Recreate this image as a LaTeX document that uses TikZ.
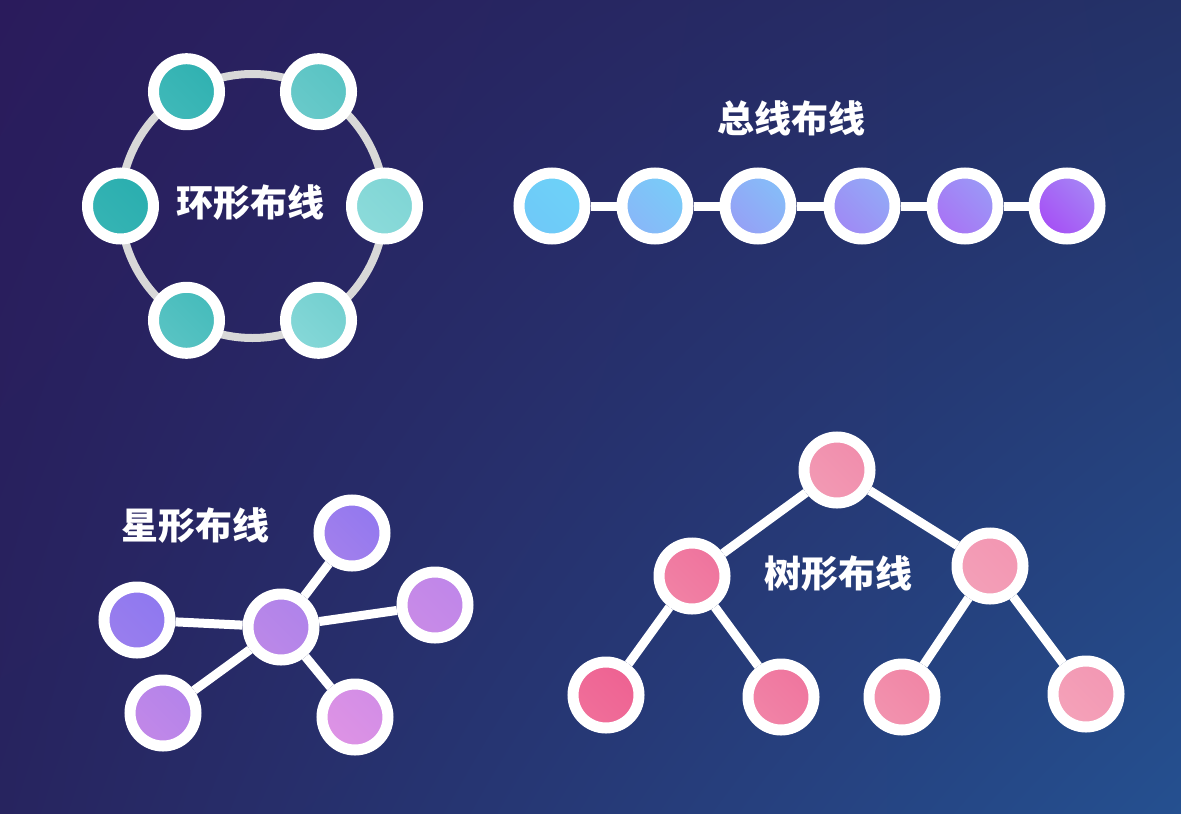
\documentclass[tikz,border=0pt]{standalone}
\usepackage{fontspec}
\usetikzlibrary{shadings}
\newfontfamily\cjk{Noto Sans CJK SC}
\pgfdeclarelayer{bg}
\pgfdeclarelayer{edges}
\pgfsetlayers{bg,edges,main}
% background
\definecolor{bgtl}{HTML}{2A1B5C}
\definecolor{bgtr}{HTML}{243268}
\definecolor{bgbl}{HTML}{27245F}
\definecolor{bgbr}{HTML}{255090}
\definecolor{ringgray}{HTML}{D8D8D8}
% ring
\definecolor{rla}{HTML}{2AAEAF}\definecolor{rlb}{HTML}{36B4B4}
\definecolor{rtla}{HTML}{30B1B1}\definecolor{rtlb}{HTML}{40B9B9}
\definecolor{rtra}{HTML}{58C3C3}\definecolor{rtrb}{HTML}{6ACACA}
\definecolor{rra}{HTML}{7FD5D5}\definecolor{rrb}{HTML}{8CDBDA}
\definecolor{rbla}{HTML}{45BBBB}\definecolor{rblb}{HTML}{5AC4C4}
\definecolor{rbra}{HTML}{72CFCF}\definecolor{rbrb}{HTML}{86D8D8}
% bus
\definecolor{b1a}{HTML}{6DD2F8}\definecolor{b1b}{HTML}{6FC8F8}
\definecolor{b2a}{HTML}{78CDF8}\definecolor{b2b}{HTML}{89B6F8}
\definecolor{b3a}{HTML}{85BEF8}\definecolor{b3b}{HTML}{969FF6}
\definecolor{b4a}{HTML}{92ABF6}\definecolor{b4b}{HTML}{A088F5}
\definecolor{b5a}{HTML}{9A9AF6}\definecolor{b5b}{HTML}{A972F5}
\definecolor{b6a}{HTML}{A586F5}\definecolor{b6b}{HTML}{A64DF5}
% star
\definecolor{sla}{HTML}{8E78EF}\definecolor{slb}{HTML}{9A7EEE}
\definecolor{sta}{HTML}{9278EF}\definecolor{stb}{HTML}{A380EC}
\definecolor{sca}{HTML}{AF83EA}\definecolor{scb}{HTML}{BC88E8}
\definecolor{sra}{HTML}{BF86E9}\definecolor{srb}{HTML}{C98BE7}
\definecolor{sbla}{HTML}{B383EA}\definecolor{sblb}{HTML}{C288E8}
\definecolor{sbra}{HTML}{D28DE6}\definecolor{sbrb}{HTML}{DE93E5}
% tree
\definecolor{tra}{HTML}{F18DAC}\definecolor{trb}{HTML}{F29AB4}
\definecolor{tmla}{HTML}{EF739D}\definecolor{tmlb}{HTML}{F182A5}
\definecolor{tmra}{HTML}{F396B2}\definecolor{tmrb}{HTML}{F3A0B8}
\definecolor{t1a}{HTML}{EE6292}\definecolor{t1b}{HTML}{F06F9A}
\definecolor{t2a}{HTML}{EF759E}\definecolor{t2b}{HTML}{F184A7}
\definecolor{t3a}{HTML}{F185A5}\definecolor{t3b}{HTML}{F293AF}
\definecolor{t4a}{HTML}{F397B3}\definecolor{t4b}{HTML}{F4A2B9}
\tikzset{
  nd/.style={circle, draw=white, line width=11pt, minimum size=66pt, inner sep=0pt},
  gn/.style 2 args={nd, left color=#1, right color=#2, shading angle=-45},
  lnk/.style={draw=white, line width=9pt},
  ringline/.style={draw=ringgray, line width=8pt},
  ttl/.style={text=white, font=\cjk\bfseries\fontsize{37}{40}\selectfont, inner sep=0pt},
}
\begin{document}
\begin{tikzpicture}[x=1pt,y=-1pt]
\useasboundingbox (0,0) rectangle (1181,814);
\begin{pgfonlayer}{bg}
\shade[upper left=bgtl, upper right=bgtr, lower left=bgbl, lower right=bgbr] (0,0) rectangle (1181,814);
\end{pgfonlayer}

% ---------- ring ----------
\coordinate (ringc) at (252.5,206);
\node[gn={rtla}{rtlb}] (r1) at (186.5,91.7) {};
\node[gn={rtra}{rtrb}] (r2) at (318.5,91.7) {};
\node[gn={rra}{rrb}]   (r3) at (384.5,206) {};
\node[gn={rbra}{rbrb}] (r4) at (318.5,320.3) {};
\node[gn={rbla}{rblb}] (r5) at (186.5,320.3) {};
\node[gn={rla}{rlb}]   (r6) at (120.5,206) {};
\begin{pgfonlayer}{edges}
\draw[ringline] (ringc) circle[radius=132pt];
\end{pgfonlayer}
\node[ttl] (ringt) at (250,203) {环形布线};

% ---------- bus ----------
\node[ttl] (bust) at (791,118) {总线布线};
\node[gn={b1a}{b1b}] (b1) at (552,206) {};
\node[gn={b2a}{b2b}] (b2) at (655,206) {};
\node[gn={b3a}{b3b}] (b3) at (758,206) {};
\node[gn={b4a}{b4b}] (b4) at (862,206) {};
\node[gn={b5a}{b5b}] (b5) at (965,206) {};
\node[gn={b6a}{b6b}] (b6) at (1067,206) {};
\begin{pgfonlayer}{edges}
\draw[lnk] (b1) -- (b2);
\draw[lnk] (b2) -- (b3);
\draw[lnk] (b3) -- (b4);
\draw[lnk] (b4) -- (b5);
\draw[lnk] (b5) -- (b6);
\end{pgfonlayer}

% ---------- star ----------
\node[ttl] (start) at (195,526) {星形布线};
\node[gn={sca}{scb}]   (sc)  at (281,627) {};
\node[gn={sta}{stb}]   (st)  at (352,533) {};
\node[gn={sra}{srb}]   (sr)  at (435,605) {};
\node[gn={sla}{slb}]   (sl)  at (137,620) {};
\node[gn={sbla}{sblb}] (sbl) at (163,713) {};
\node[gn={sbra}{sbrb}] (sbr) at (355,717) {};
\begin{pgfonlayer}{edges}
\draw[lnk] (sc) -- (st);
\draw[lnk] (sc) -- (sr);
\draw[lnk] (sc) -- (sl);
\draw[lnk] (sc) -- (sbl);
\draw[lnk] (sc) -- (sbr);
\end{pgfonlayer}

% ---------- tree ----------
\node[gn={tra}{trb}]   (tr)  at (837,470) {};
\node[gn={tmla}{tmlb}] (tml) at (692,576) {};
\node[gn={tmra}{tmrb}] (tmr) at (990,566) {};
\node[gn={t1a}{t1b}]   (t1)  at (606,695) {};
\node[gn={t2a}{t2b}]   (t2)  at (781,697) {};
\node[gn={t3a}{t3b}]   (t3)  at (902,697) {};
\node[gn={t4a}{t4b}]   (t4)  at (1086,694) {};
\begin{pgfonlayer}{edges}
\draw[lnk] (tr) -- (tml);
\draw[lnk] (tr) -- (tmr);
\draw[lnk] (tml) -- (t1);
\draw[lnk] (tml) -- (t2);
\draw[lnk] (tmr) -- (t3);
\draw[lnk] (tmr) -- (t4);
\end{pgfonlayer}
\node[ttl] (treet) at (838,574) {树形布线};
\end{tikzpicture}
\end{document}
